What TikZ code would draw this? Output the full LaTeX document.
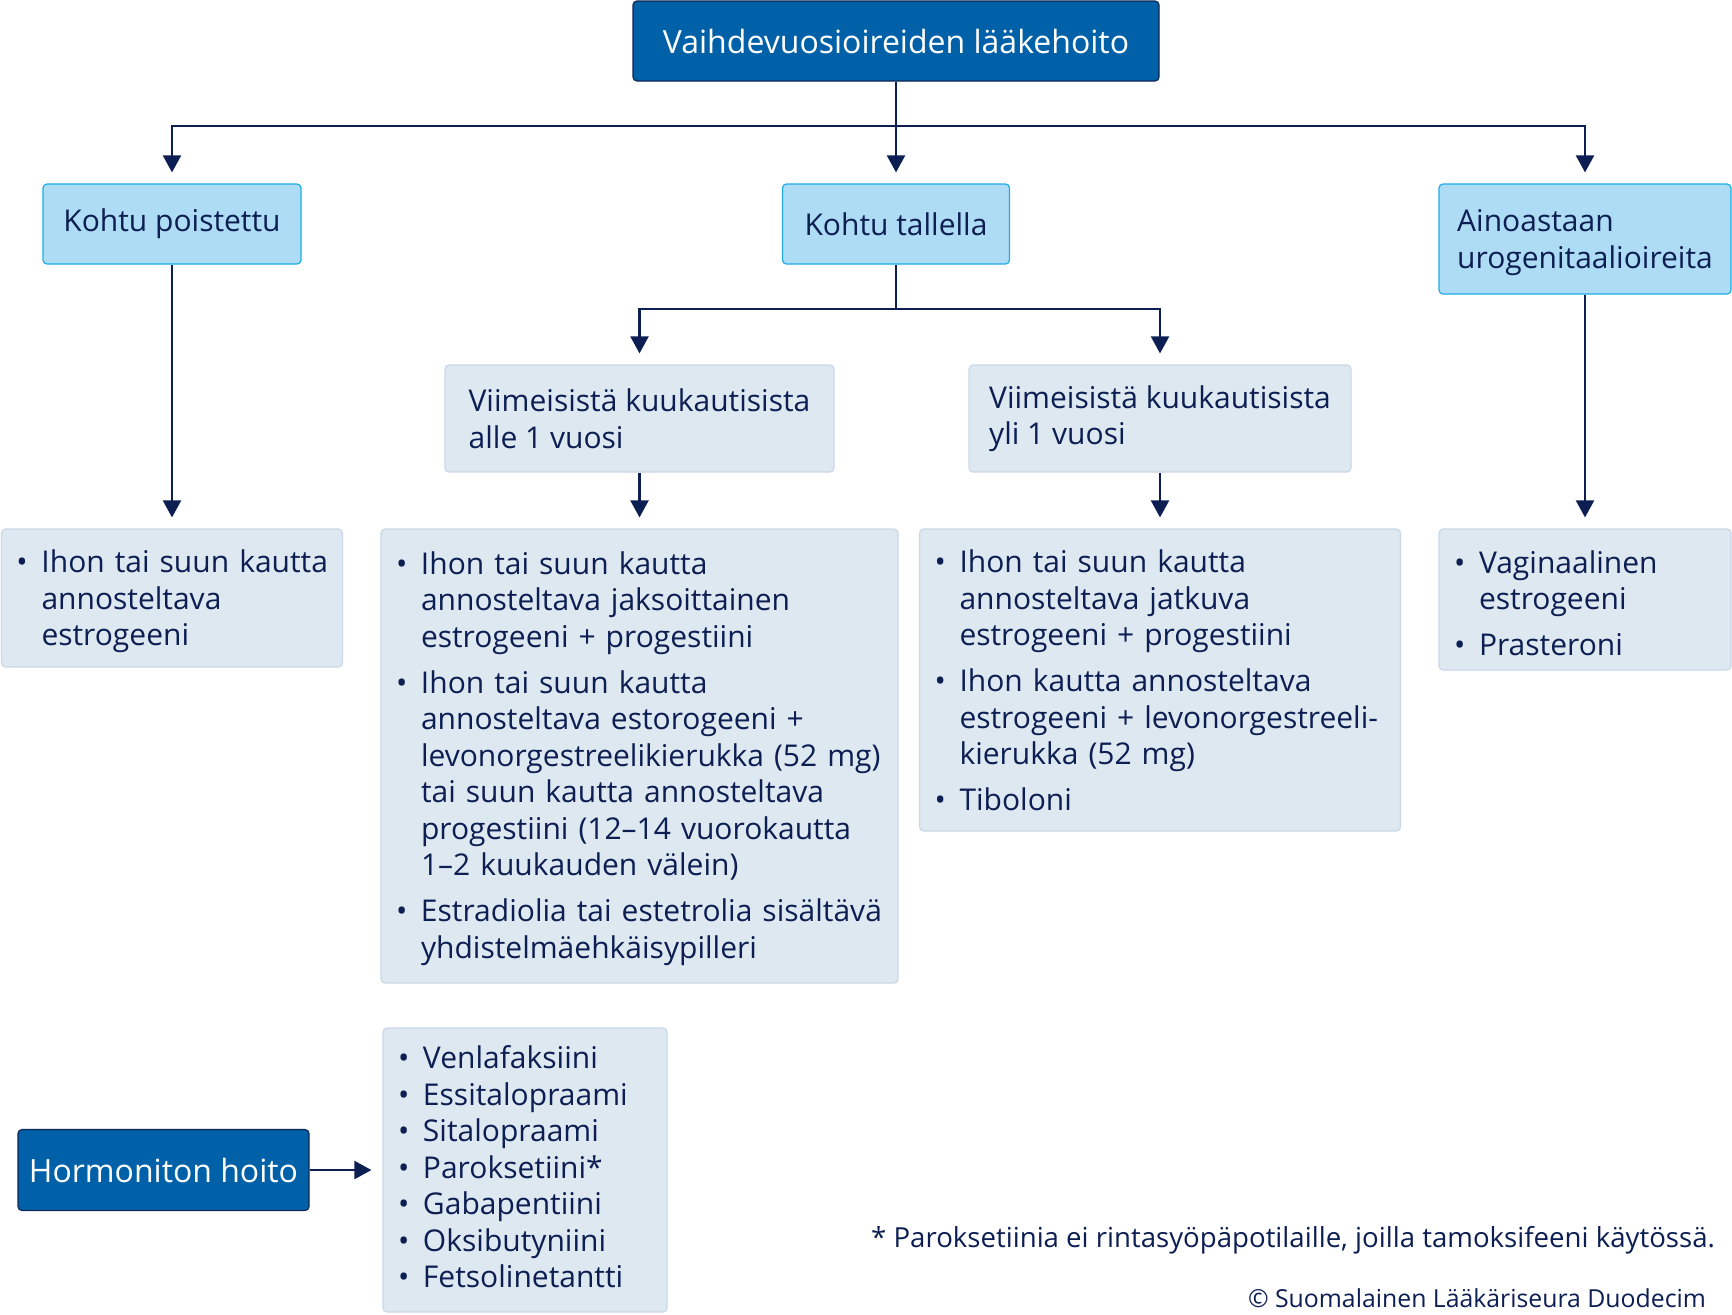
\documentclass[tikz,border=0pt]{standalone}
\usepackage{fontspec}
\setmainfont{Open Sans}
\usetikzlibrary{arrows.meta}

\definecolor{dkblue}{RGB}{0,97,168}
\definecolor{dkline}{RGB}{16,38,84}
\definecolor{ltblue}{RGB}{174,220,244}
\definecolor{ltline}{RGB}{30,172,228}
\definecolor{greybox}{RGB}{222,232,241}
\definecolor{greyline}{RGB}{202,216,231}
\definecolor{navy}{RGB}{12,30,82}

\newcommand{\itm}[1]{\par\hangindent=18pt\hangafter=1\rightskip=-8pt plus 1fil\hyphenpenalty=10000\noindent\makebox[18pt][l]{\hspace{5.5pt}\textbullet}#1\par}
\newcommand{\gap}{\vspace{4.7pt}}
\newcommand{\dn}[1]{\rule[-#1]{0pt}{#1}}

\tikzset{
  txt/.style={font=\fontsize{15pt}{18.25pt}\selectfont, text=navy},
  darkbox/.style={txt, font=\fontsize{16pt}{18.25pt}\selectfont, text=white, fill=dkblue, draw=dkline, line width=0.6pt, rounded corners=2pt},
  lightbox/.style={txt, fill=ltblue, draw=ltline, line width=0.6pt, rounded corners=2pt},
  greyhead/.style={txt, fill=greybox, draw=greyline, line width=0.6pt, rounded corners=2pt, align=left},
  listbox/.style={greyhead, inner xsep=2pt},
  arr/.style={draw=navy, line width=1.1pt, -{Triangle[length=8.5pt,width=9pt]}, shorten >=5.5pt},
  ln/.style={draw=navy, line width=1.1pt}
}

\begin{document}
\begin{tikzpicture}[x=0.5pt,y=-0.5pt]
  \useasboundingbox (0,0) rectangle (1732,1314);

  \node[darkbox, minimum width=263pt, minimum height=40pt] (top) at (896,41) {Vaihdevuosioireiden lääkehoito};

  \node[lightbox, minimum width=129pt, minimum height=40pt] (kp) at (172,224) {Kohtu poistettu};
  \node[lightbox, minimum width=113.5pt, minimum height=40pt] (kt) at (896,224) {Kohtu tallella};
  \node[lightbox, align=left, text depth=0pt, minimum width=146pt, minimum height=55pt] (ain) at (1585,239) {Ainoastaan\\urogenitaalioireita};

  \node[greyhead, minimum width=194.5pt, minimum height=53.5pt] (va) at (639.5,418.5) {Viimeisistä kuukautisista\\alle 1 vuosi};
  \node[greyhead, minimum width=191pt, minimum height=53.5pt] (vy) at (1160,418.5) {Viimeisistä kuukautisista\\yli 1 vuosi};

  \node[listbox, text width=166.5pt, minimum height=69pt] (b1) at (172,598) {%
    \itm{Ihon tai suun kautta\newline annosteltava\newline estrogeeni\dn{7pt}}};
  \node[listbox, text width=254.5pt, minimum height=227pt] (b2) at (639.5,756) {%
    \itm{Ihon tai suun kautta\newline annosteltava jaksoittainen\newline estrogeeni + progestiini}\gap
    \itm{Ihon tai suun kautta\newline annosteltava estorogeeni +\newline levonorgestreelikierukka (52 mg)\newline tai suun kautta annosteltava\newline progestiini (12–14 vuorokautta\newline 1–2 kuukauden välein)}\gap
    \itm{Estradiolia tai estetrolia sisältävä\newline yhdistelmäehkäisypilleri\dn{8pt}}};
  \node[listbox, text width=236.5pt, minimum height=151pt] (b3) at (1160,680) {%
    \itm{Ihon tai suun kautta\newline annosteltava jatkuva\newline estrogeeni + progestiini}\gap
    \itm{Ihon kautta annosteltava\newline estrogeeni + levonorgestreeli-\newline kierukka (52 mg)}\gap
    \itm{Tiboloni\dn{6.6pt}}};
  \node[listbox, text width=142pt, minimum height=70.5pt] (b4) at (1585,599.5) {%
    \itm{Vaginaalinen\newline estrogeeni}\gap
    \itm{Prasteroni\dn{3.3pt}}};

  \node[darkbox, minimum width=145.5pt, minimum height=40.5pt] (hh) at (163.5,1170) {Hormoniton hoito};
  \node[listbox, inner ysep=1pt, text width=138pt, minimum height=142pt] (nh) at (525,1170) {%
    \itm{Venlafaksiini}
    \itm{Essitalopraami}
    \itm{Sitalopraami}
    \itm{Paroksetiini*}
    \itm{Gabapentiini}
    \itm{Oksibutyniini}
    \itm{Fetsolinetantti\dn{10pt}}};

  \node[txt, font=\fontsize{13.8pt}{16pt}\selectfont, anchor=east] (fn) at (1722,1240) {* Paroksetiinia ei rintasyöpäpotilaille, joilla tamoksifeeni käytössä.};
  \node[txt, font=\fontsize{12.4pt}{15pt}\selectfont, anchor=east] (cr) at (1713,1298) {© Suomalainen Lääkäriseura Duodecim};

  \coordinate (jct) at (896,126);
  \coordinate (jct2) at (896,309);

  \draw[arr] (top) -- (kt);
  \draw[arr] (jct) -| (kp);
  \draw[arr] (jct) -| (ain);
  \draw[ln] (kt) -- (jct2);
  \draw[arr] (jct2) -| (va);
  \draw[arr] (jct2) -| (vy);
  \draw[arr] (kp) -- (b1);
  \draw[arr] (va) -- (b2);
  \draw[arr] (vy) -- (b3);
  \draw[arr] (ain) -- (b4);
  \draw[arr] (hh) -- (nh);
\end{tikzpicture}
\end{document}
